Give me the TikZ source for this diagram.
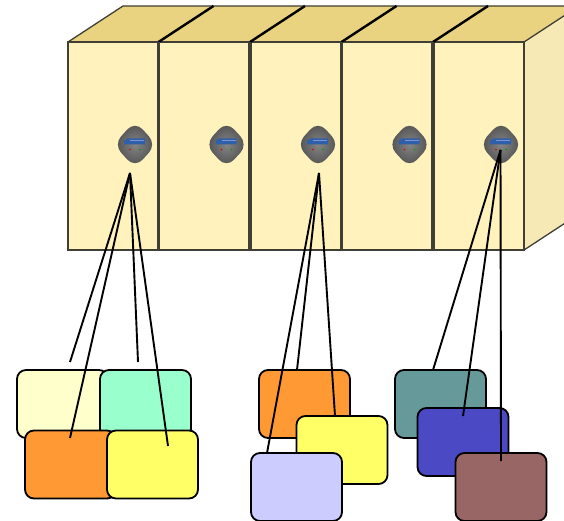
\documentclass[tikz,border=0pt]{standalone}
\usetikzlibrary{shapes.geometric}
\definecolor{frontc}{HTML}{FFF2BD}
\definecolor{topc}{HTML}{E9D381}
\definecolor{sidec}{HTML}{F6E9B6}
\definecolor{edgec}{HTML}{3F3F35}
\definecolor{cyellow}{HTML}{FFFFCC}
\definecolor{cgreen}{HTML}{99FFCC}
\definecolor{corange}{HTML}{FF9933}
\definecolor{cbright}{HTML}{FFFF66}
\definecolor{clav}{HTML}{CCCCFF}
\definecolor{cteal}{HTML}{669999}
\definecolor{cblue}{HTML}{4B49C3}
\definecolor{cbrown}{HTML}{996666}
\definecolor{logoc}{HTML}{2F5FA8}
\tikzset{
  x=1pt,y=-1pt,
  door/.style={draw=edgec,line width=1.3pt,fill=frontc},
  lidline/.style={draw=black,line width=2.4pt},
  card/.style={draw=black,line width=1.8pt,rounded corners=9pt,minimum width=91pt,minimum height=68pt,inner sep=0pt},
  link/.style={draw=black,line width=1.9pt},
  sensor/.style={shape=diamond,aspect=0.9,minimum width=43pt,minimum height=47pt,inner sep=0pt,rounded corners=11pt,
    inner color=black!48,outer color=black!70,draw=none}
}
\begin{document}
\begin{tikzpicture}
\useasboundingbox (0,0) rectangle (564,521);
\begin{scope}
\clip (0,0) rectangle (564,521);
\fill[topc] (68,42) -- (123,6) -- (579,6) -- (524,42) -- cycle;
\fill[sidec] (524,42) -- (579,6) -- (579,214) -- (524,250) -- cycle;
\draw[edgec,line width=1.3pt] (68,42) -- (123,6) -- (579,6) -- (524,42);
\draw[edgec,line width=1.3pt] (579,214) -- (524,250);
\foreach \i/\a/\b in {1/68/158,2/159/249,3/251/341,4/342/432,5/434/524}{
  \draw[door] (\a,42) rectangle (\b,250);
}
\foreach \a/\b in {158.5/213.5,250/305,341.5/396.5,433/488}{
  \draw[lidline] (\a,42) -- (\b,6);
  \draw[edgec,line width=2.8pt] (\a,42) -- (\a,250);
}
\end{scope}
\foreach \n/\x in {s1/135,s2/226.5,s3/318,s4/409.5,s5/501}{
  \node[sensor] (\n) at (\x,144.5) {};
  \fill[logoc] (\x-11,141) -- (\x-8,138.5) -- (\x+10,138.5) -- (\x+10,144.5) -- (\x-11,144.5) -- cycle;
  \fill[blue!20!white,opacity=.5] (\x-5,140.5) rectangle (\x+9,141.4);
  \fill[red!85!black] (\x-5,149.5) circle (0.9pt);
  \fill[green!60!black] (\x+5,149.5) circle (0.9pt);
}
\node[card,fill=cyellow] (a1) at (62.5,404) {};
\node[card,fill=cgreen] (a2) at (145.5,404) {};
\node[card,fill=corange] (a3) at (70.5,464.5) {};
\node[card,fill=cbright] (a4) at (152.5,464.5) {};
\node[card,fill=corange] (b1) at (304.5,404) {};
\node[card,fill=cbright] (b2) at (342,450) {};
\node[card,fill=clav] (b3) at (296.5,487) {};
\node[card,fill=cteal] (c1) at (440.5,404) {};
\node[card,fill=cblue] (c2) at (463,442) {};
\node[card,fill=cbrown] (c3) at (501,487) {};
\coordinate (h1) at (130,173);
\coordinate (h2) at (319,173);
\coordinate (h3) at (500.5,150);
\coordinate (e1) at (70,362);
\coordinate (e2) at (70,438);
\coordinate (e3) at (138,362);
\coordinate (e4) at (168,446);
\coordinate (e5) at (267,453);
\coordinate (e6) at (297,370);
\coordinate (e7) at (335,416);
\coordinate (e8) at (433,370);
\coordinate (e9) at (463,416);
\coordinate (e10) at (501,461);
\foreach \e in {e1,e2,e3,e4}{\draw[link] (h1) -- (\e);}
\foreach \e in {e5,e6,e7}{\draw[link] (h2) -- (\e);}
\foreach \e in {e8,e9,e10}{\draw[link] (h3) -- (\e);}
\end{tikzpicture}
\end{document}
